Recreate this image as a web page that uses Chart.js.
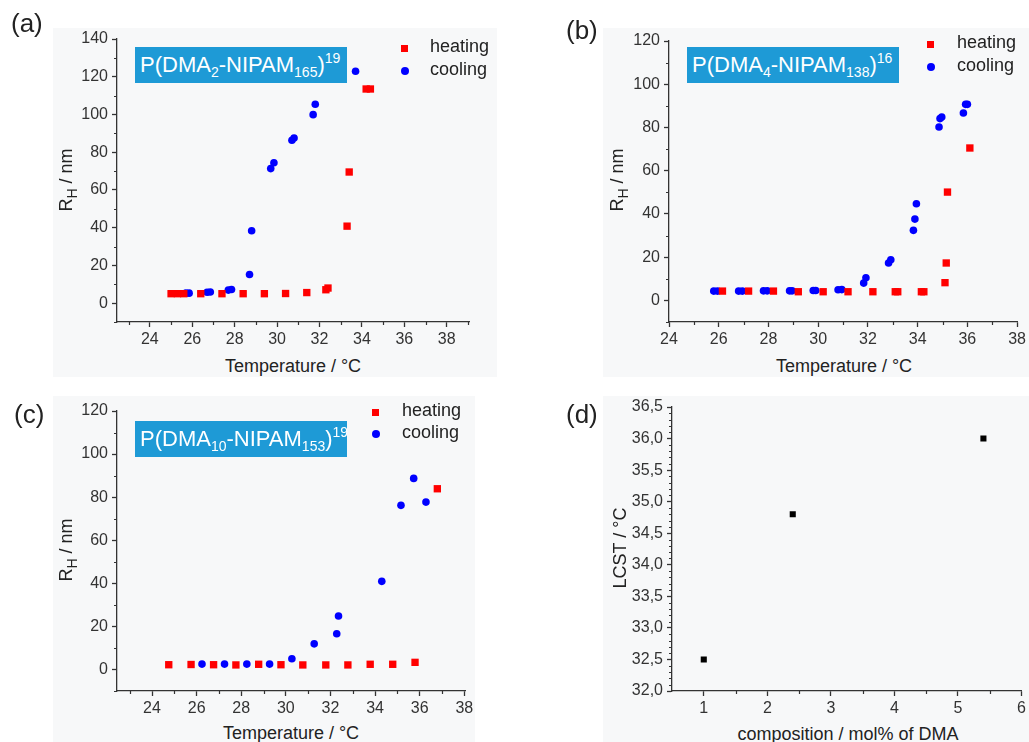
<!DOCTYPE html>
<html>
<head>
<meta charset="utf-8">
<script src="https://cdn.jsdelivr.net/npm/chart.js@4.4.1/dist/chart.umd.min.js"></script>
<style>
  body { margin: 0; width: 1029px; height: 742px; background: #fff; position: relative; overflow: hidden;
         font-family: "Liberation Sans", Arial, sans-serif; color: #222; }
  .bg { position: absolute; background: #f7f8f9; }
  canvas { position: absolute; }
  .lbl { position: absolute; font-size: 26px; color: #222; }
  .box { position: absolute; background: #1e9ad6; color: #fff; font-size: 22px; line-height: 36px;
         height: 36px; padding-left: 5px; box-sizing: border-box; white-space: nowrap; }
  .box sub { font-size: 14px; vertical-align: -5px; line-height: 0; }
  .box sup { font-size: 14px; vertical-align: 9px; line-height: 0; }
  .ytitle { position: absolute; font-size: 18px; white-space: nowrap; transform: translate(-50%, -50%) rotate(-90deg); }
  .ytitle sub { font-size: 14px; vertical-align: -5px; line-height: 0; }
  .xtitle { position: absolute; font-size: 18px; white-space: nowrap; transform: translate(-50%, -50%); }
  .leg { position: absolute; font-size: 18px; line-height: 22px; white-space: nowrap; }
  .sq { display: inline-block; width: 7px; height: 7px; background: #ff0000; }
  .dot { display: inline-block; width: 8px; height: 8px; border-radius: 50%; background: #0000ff; }
</style>
</head>
<body>
<div class="bg" style="left:53px;top:28px;width:444px;height:349px"></div>
<div class="bg" style="left:603px;top:28px;width:426px;height:349px"></div>
<div class="bg" style="left:53px;top:396px;width:422px;height:346px"></div>
<div class="bg" style="left:603px;top:396px;width:426px;height:346px"></div>

<canvas id="chartA" width="460" height="330" style="left:40px;top:20px"></canvas>
<canvas id="chartB" width="439" height="330" style="left:590px;top:20px"></canvas>
<canvas id="chartC" width="460" height="330" style="left:40px;top:390px"></canvas>
<canvas id="chartD" width="439" height="330" style="left:590px;top:390px"></canvas>

<div class="lbl" style="left:11px;top:8px">(a)</div>
<div class="lbl" style="left:566px;top:15px">(b)</div>
<div class="lbl" style="left:14px;top:399px">(c)</div>
<div class="lbl" style="left:566px;top:399px">(d)</div>

<div class="box" style="left:135px;top:47px;width:212px">P(DMA<sub>2</sub>-NIPAM<sub>165</sub>)<sup>19</sup></div>
<div class="box" style="left:687px;top:47px;width:212px">P(DMA<sub>4</sub>-NIPAM<sub>138</sub>)<sup>16</sup></div>
<div class="box" style="left:135px;top:421px;width:212px">P(DMA<sub>10</sub>-NIPAM<sub>153</sub>)<sup>19</sup></div>

<div class="leg" style="left:401px;top:35px"><span class="sq"></span><span style="margin-left:22px">heating</span></div>
<div class="leg" style="left:401px;top:58px"><span class="dot"></span><span style="margin-left:21px">cooling</span></div>
<div class="leg" style="left:927px;top:31px"><span class="sq"></span><span style="margin-left:23px">heating</span></div>
<div class="leg" style="left:927px;top:54px"><span class="dot"></span><span style="margin-left:22px">cooling</span></div>
<div class="leg" style="left:372px;top:399px"><span class="sq"></span><span style="margin-left:23px">heating</span></div>
<div class="leg" style="left:372px;top:421px"><span class="dot"></span><span style="margin-left:22px">cooling</span></div>

<div class="ytitle" style="left:66px;top:180px">R<sub>H</sub> / nm</div>
<div class="ytitle" style="left:617px;top:180px">R<sub>H</sub> / nm</div>
<div class="ytitle" style="left:66px;top:550px">R<sub>H</sub> / nm</div>
<div class="ytitle" style="left:620px;top:548px">LCST / °C</div>

<div class="xtitle" style="left:293px;top:366px">Temperature / °C</div>
<div class="xtitle" style="left:844px;top:366px">Temperature / °C</div>
<div class="xtitle" style="left:291px;top:733px">Temperature / °C</div>
<div class="xtitle" style="left:848px;top:734px">composition / mol% of DMA</div>

<script>
// (a) P(DMA2-NIPAM165)
const aHeatT = [25.0, 25.3, 25.6, 26.4, 27.4, 28.4, 29.4, 30.4, 31.4, 32.3, 32.4, 33.3, 33.4, 34.2, 34.4];
const aHeatR = [5.0, 5.0, 5.0, 5.0, 5.0, 5.0, 5.0, 5.1, 5.6, 7.1, 8.0, 40.8, 69.5, 113.5, 113.5];
const aCoolT = [25.7, 25.85, 26.7, 26.85, 27.7, 27.85, 28.7, 28.8, 29.7, 29.85, 30.7, 30.8, 31.7, 31.8, 33.7];
const aCoolR = [5.3, 5.3, 5.8, 5.9, 6.9, 7.2, 15.2, 38.4, 71.3, 74.4, 86.3, 87.5, 99.9, 105.4, 122.9];

// (b) P(DMA4-NIPAM138)
const bHeatT = [26.15, 27.2, 28.2, 29.2, 30.2, 31.2, 32.2, 33.1, 33.2, 34.15, 34.25, 35.1, 35.15, 35.2, 36.1];
const bHeatR = [4.3, 4.3, 4.3, 4.0, 4.0, 4.0, 4.0, 4.0, 4.0, 4.0, 4.0, 8.2, 17.3, 50.1, 70.5];
const bCoolT = [25.8, 25.95, 26.8, 26.95, 27.8, 27.95, 28.85, 28.95, 29.8, 29.9, 30.8, 30.95, 31.83, 31.92,
                32.83, 32.92, 33.83, 33.89, 33.95, 34.86, 34.9, 34.97, 35.84, 35.93, 36.0];
const bCoolR = [4.3, 4.3, 4.3, 4.3, 4.4, 4.4, 4.4, 4.4, 4.6, 4.6, 4.9, 5.0, 8.0, 10.5,
                17.3, 18.8, 32.4, 37.6, 44.7, 80.2, 84.1, 84.8, 86.7, 90.7, 90.7];

// (c) P(DMA10-NIPAM153)
const cHeatT = [24.75, 25.75, 26.76, 27.76, 28.78, 29.78, 30.76, 31.79, 32.78, 33.78, 34.79, 35.79, 36.79];
const cHeatR = [2.2, 2.3, 2.2, 2.1, 2.4, 2.2, 2.1, 2.1, 2.1, 2.4, 2.4, 3.3, 83.9];
const cCoolT = [26.24, 27.25, 28.25, 29.27, 30.27, 31.27, 32.28, 32.36, 34.3, 35.16, 35.73, 36.28];
const cCoolR = [2.5, 2.5, 2.5, 2.5, 5.0, 11.9, 16.6, 24.8, 40.9, 76.2, 88.7, 77.7];

// (d) LCST vs composition
const dComp = [1, 2.4, 5.4];
const dLcst = [32.5, 34.8, 36.0];

// tick values
const tempTicksA = [24, 26, 28, 30, 32, 34, 36, 38];
const tempMinorA = [23, 25, 27, 29, 31, 33, 35, 37, 39];
const tempTicksB = [24, 26, 28, 30, 32, 34, 36, 38];
const tempMinorB = [25, 27, 29, 31, 33, 35, 37];
const rTicksA = [0, 20, 40, 60, 80, 100, 120, 140];
const rMinorA = [-10, 10, 30, 50, 70, 90, 110, 130];
const rTicks = [0, 20, 40, 60, 80, 100, 120];
const rMinor = [-10, 10, 30, 50, 70, 90, 110];
const compTicks = [1, 2, 3, 4, 5, 6];
const compMinor = [1.5, 2.5, 3.5, 4.5, 5.5];
const lcstTicks = [32.0, 32.5, 33.0, 33.5, 34.0, 34.5, 35.0, 35.5, 36.0, 36.5];
const lcstMinor = [];
for (let i = 0; i < 45; i++) {
    if (i % 5 !== 0) lcstMinor.push(Math.round((32 + i * 0.1) * 10) / 10);
}

const AXIS = '#333';
const tickFont = { family: '"Liberation Sans", Arial, sans-serif', size: 16 };

// kleine Zwischenstriche an den Achsen
const minorTicks = {
    id: 'minorTicks',
    afterDraw(chart, args, opts) {
        const ctx = chart.ctx;
        const xs = chart.scales.x, ys = chart.scales.y;
        ctx.save();
        ctx.strokeStyle = AXIS;
        ctx.lineWidth = 1.2;
        ctx.beginPath();
        (opts.x || []).forEach(v => {
            const px = Math.round(xs.getPixelForValue(v)) + 0.5;
            ctx.moveTo(px, xs.top);
            ctx.lineTo(px, xs.top + 3);
        });
        (opts.y || []).forEach(v => {
            const py = Math.round(ys.getPixelForValue(v)) + 0.5;
            ctx.moveTo(ys.right, py);
            ctx.lineTo(ys.right - 3, py);
        });
        ctx.stroke();
        ctx.restore();
    }
};

function pts(xs, ys) {
    return xs.map((v, i) => ({ x: v, y: ys[i] }));
}

function makeScale(min, max, ticks, size, isY, fmt) {
    return {
        type: 'linear',
        min: min,
        max: max,
        afterBuildTicks: axis => { axis.ticks = ticks.map(v => ({ value: v })); },
        afterFit: axis => { if (isY) axis.width = size; else axis.height = size; },
        border: { display: true, color: AXIS, width: 1.3 },
        grid: { drawOnChartArea: false, drawTicks: true, tickLength: 5, color: AXIS, tickWidth: 1.3 },
        ticks: {
            autoSkip: false, maxRotation: 0, padding: isY ? 4 : 3,
            color: AXIS, font: tickFont,
            callback: fmt || (v => v)
        }
    };
}

function makeChart(id, datasets, sx, sy, pad, minor) {
    return new Chart(document.getElementById(id), {
        type: 'scatter',
        data: { datasets: datasets },
        options: {
            responsive: false,
            animation: false,
            events: [],
            layout: { padding: pad },
            plugins: { legend: { display: false }, tooltip: { enabled: false }, minorTicks: minor },
            scales: { x: sx, y: sy }
        },
        plugins: [minorTicks]
    });
}

function heating(xs, ys) {
    return { label: 'heating', data: pts(xs, ys), pointStyle: 'rect', pointRadius: 5.2,
             backgroundColor: '#ff0000', borderWidth: 0 };
}
function cooling(xs, ys) {
    return { label: 'cooling', data: pts(xs, ys), pointStyle: 'circle', pointRadius: 3.8,
             backgroundColor: '#0000ff', borderWidth: 0 };
}

// canvas (a): 40..500 x 20..350, plot 117..469 x 39..322
makeChart('chartA',
    [heating(aHeatT, aHeatR), cooling(aCoolT, aCoolR)],
    makeScale(22.45, 39.05, tempTicksA, 28, false),
    makeScale(-10, 140, rTicksA, 77, true),
    { left: 0, top: 19, right: 31, bottom: 0 },
    { x: tempMinorA, y: rMinorA });

// canvas (b): 590..1029 x 20..350, plot 669..1018 x 41..322
makeChart('chartB',
    [heating(bHeatT, bHeatR), cooling(bCoolT, bCoolR)],
    makeScale(24, 38, tempTicksB, 28, false),
    makeScale(-10, 120, rTicks, 79, true),
    { left: 0, top: 21, right: 11, bottom: 0 },
    { x: tempMinorB, y: rMinor });

// canvas (c): 40..500 x 390..720, plot 117..465 x 411..691
makeChart('chartC',
    [heating(cHeatT, cHeatR), cooling(cCoolT, cCoolR)],
    makeScale(22.43, 38.03, tempTicksA, 29, false),
    makeScale(-10, 120, rTicks, 77, true),
    { left: 0, top: 21, right: 35, bottom: 0 },
    { x: tempMinorA.slice(0, 8), y: rMinor });

// canvas (d): 590..1029 x 390..720, plot 672..1023 x 407..691
makeChart('chartD',
    [{ label: 'LCST', data: pts(dComp, dLcst), pointStyle: 'rect', pointRadius: 4.3,
       backgroundColor: '#000', borderWidth: 0 }],
    makeScale(0.5, 6, compTicks, 29, false),
    makeScale(32, 36.5, lcstTicks, 82, true, v => v.toFixed(1).replace('.', ',')),
    { left: 0, top: 17, right: 6, bottom: 0 },
    { x: compMinor, y: lcstMinor });
</script>
</body>
</html>
